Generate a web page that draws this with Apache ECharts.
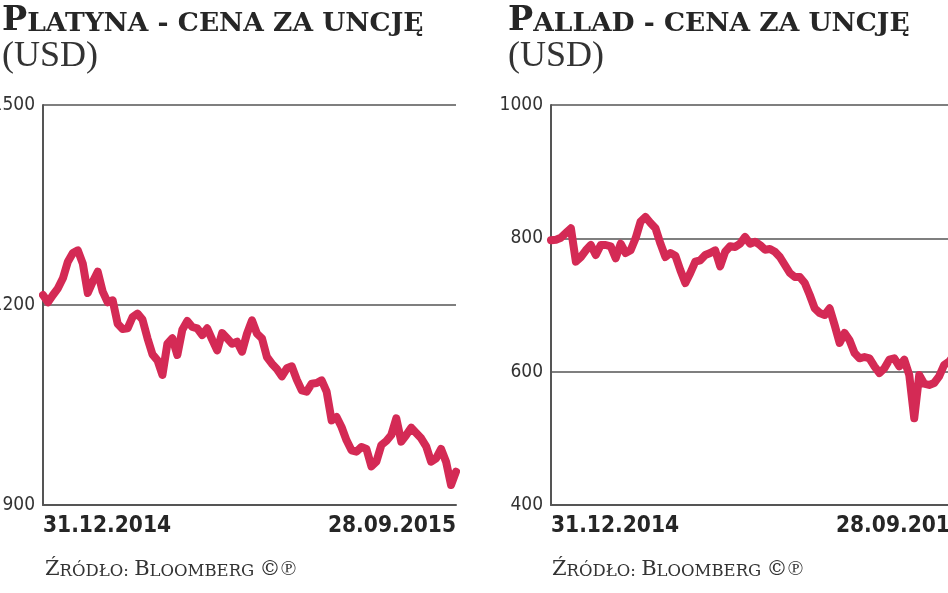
<!DOCTYPE html>
<html>
<head>
<meta charset="utf-8">
<script src="https://cdn.jsdelivr.net/npm/echarts@6/dist/echarts.min.js"></script>
<style>
  html, body { margin: 0; background: #fff; }
  #chart { width: 948px; height: 593px; }
</style>
</head>
<body>
<div id="chart"></div>
<script>
// ceny w USD, odczytane co ~5 px z wykresu (31.12.2014 - 28.09.2015)
const platinumPrices = [
  1215, 1204, 1215, 1225, 1240, 1265, 1278, 1282, 1262, 1218,
  1235, 1250, 1220, 1204, 1207, 1172, 1164, 1165, 1182, 1187,
  1178, 1150, 1126, 1117, 1095, 1142, 1150, 1125, 1163, 1176,
  1167, 1165, 1155, 1165, 1148, 1132, 1158, 1150, 1142, 1145,
  1130, 1157, 1177, 1157, 1150, 1122, 1112, 1104, 1093, 1105,
  1108, 1088, 1072, 1070, 1082, 1083, 1087, 1070, 1027, 1032,
  1017, 997, 982, 980, 987, 984, 958, 965, 990, 996,
  1005, 1030, 995, 1005, 1016, 1008, 1000, 988, 965, 970,
  984, 965, 930, 950
];
const palladiumPrices = [
  797, 798, 801, 808, 815, 765, 772, 782, 790, 775,
  790, 790, 788, 770, 792, 778, 782, 800, 825, 832,
  823, 815, 792, 772, 778, 774, 752, 733, 748, 765,
  767, 775, 778, 782, 758, 780, 788, 787, 792, 802,
  792, 795, 790, 783, 784, 780, 772, 760, 748, 742,
  742, 733, 715, 695, 688, 685, 695, 670, 643, 658,
  647, 628, 620, 622, 620, 608, 598, 605, 618, 620,
  608, 618, 595, 530, 595, 582, 580, 583, 593, 610,
  615, 625, 640, 660
];
const dateTicks = ['31.12.2014', '28.09.2015'];
const platinumScale = [900, 1500, 300];   // min, max, krok
const palladiumScale = [400, 1000, 200];

const lineColor = '#d42a55';
const axisColor = '#555';
const dark = '#262626';
const slab = "'DejaVu Serif', serif";
const serif = "'Liberation Serif', serif";
const narrow = "'DejaVu Sans Condensed', 'Liberation Sans Narrow', sans-serif";

const chart = echarts.init(document.getElementById('chart'));
const categories = platinumPrices.map((v, i) => String(i));
const last = categories.length - 1;

function makeTitle(left, first, rest) {
    return {
        left: left,
        top: 6,
        padding: 0,
        itemGap: 0,
        text: '{a|' + first + '}{b|' + rest + '}',
        subtext: '(USD)',
        textStyle: {
            rich: {
                a: { fontFamily: slab, fontWeight: 'bold', fontSize: 33.5, color: dark, verticalAlign: 'bottom', lineHeight: 32 },
                b: { fontFamily: slab, fontWeight: 'bold', fontSize: 26.5, color: dark, verticalAlign: 'bottom', lineHeight: 26 }
            }
        },
        subtextStyle: {
            fontFamily: serif,
            fontSize: 36,
            color: '#333',
            lineHeight: 34
        }
    };
}

function makeXAxis(gridIndex) {
    return {
        type: 'category',
        gridIndex: gridIndex,
        data: categories,
        boundaryGap: false,
        axisLine: { lineStyle: { color: axisColor, width: 2 } },
        axisTick: { show: false },
        axisLabel: {
            interval: (i) => i === 0 || i === last,
            formatter: (v, i) => i === 0 ? dateTicks[0] : dateTicks[1],
            alignMinLabel: 'left',
            alignMaxLabel: 'right',
            margin: 10,
            fontFamily: narrow,
            fontWeight: 'bold',
            fontSize: 22.5,
            color: dark
        }
    };
}

function makeYAxis(gridIndex, scale) {
    return {
        type: 'value',
        gridIndex: gridIndex,
        min: scale[0],
        max: scale[1],
        interval: scale[2],
        axisLine: { show: true, lineStyle: { color: axisColor, width: 2 } },
        axisTick: { show: false },
        splitLine: { lineStyle: { color: axisColor, width: 1.5 } },
        axisLabel: {
            margin: 8,
            formatter: (v) => String(v),
            fontFamily: narrow,
            fontSize: 19,
            color: '#333'
        }
    };
}

function makeSeries(index, data) {
    return {
        type: 'line',
        xAxisIndex: index,
        yAxisIndex: index,
        data: data,
        showSymbol: false,
        silent: true,
        lineStyle: { color: lineColor, width: 8, join: 'round', cap: 'round' }
    };
}

function sourceText(left) {
    return {
        type: 'text',
        left: left,
        top: 559,
        style: {
            text: '{a|Ź}{b|RÓDŁO: }{a|B}{b|LOOMBERG }{a|©℗}',
            rich: {
                a: { fontFamily: slab, fontSize: 21, fill: '#333', verticalAlign: 'bottom', lineHeight: 26 },
                b: { fontFamily: slab, fontSize: 16.5, fill: '#333', verticalAlign: 'bottom', lineHeight: 21 }
            }
        }
    };
}

chart.setOption({
    backgroundColor: '#fff',
    animation: false,
    title: [
        makeTitle(2, 'P', 'LATYNA - CENA ZA UNCJĘ'),
        makeTitle(508, 'P', 'ALLAD - CENA ZA UNCJĘ')
    ],
    grid: [
        { left: 43, top: 105, width: 413, height: 400, outerBoundsMode: 'none' },
        { left: 551, top: 105, width: 413, height: 400, outerBoundsMode: 'none' }
    ],
    xAxis: [makeXAxis(0), makeXAxis(1)],
    yAxis: [makeYAxis(0, platinumScale), makeYAxis(1, palladiumScale)],
    series: [makeSeries(0, platinumPrices), makeSeries(1, palladiumPrices)],
    graphic: [sourceText(45), sourceText(552)]
});
</script>
</body>
</html>
